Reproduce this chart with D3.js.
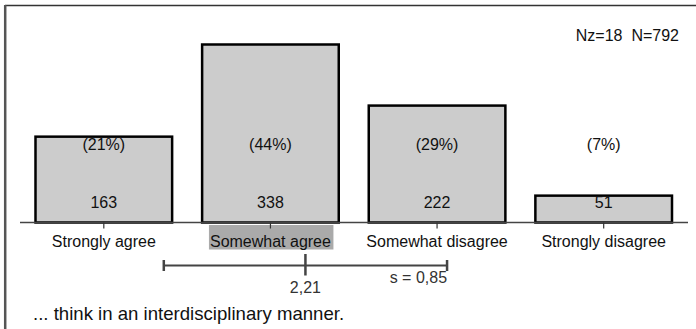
<!DOCTYPE html>
<html><head><meta charset="utf-8">
<script src="https://cdn.jsdelivr.net/npm/d3@7"></script>
<style>body{margin:0;background:#fff}svg{display:block}text{font-family:"Liberation Sans",Arial,sans-serif}</style>
</head><body><svg id="c" width="696" height="329"></svg>
<script>
const categories = ["Strongly agree","Somewhat agree","Somewhat disagree","Strongly disagree"];
const counts = [163,338,222,51];
const percents = ["(21%)","(44%)","(29%)","(7%)"];
const meanValue = 2.21, sdValue = 0.85;
const meanLabel = "2,21", sdLabel = "s = 0,85";
const nLabel = "Nz=18  N=792";
const footer = "... think in an interdisciplinary manner.";
const highlightIndex = 1;

const svg = d3.select("#c");
const baseY = 222.5;
const x = d3.scaleBand().domain(categories).range([20.5, 687]).paddingInner(0.18).paddingOuter(0.09);
const y = d3.scaleLinear().domain([0, 338]).range([baseY, 44.5]);
const m = d3.scaleLinear().domain([1, 4]).range([x(categories[0]) + x.bandwidth()/2, x(categories[3]) + x.bandwidth()/2]);

// frame
svg.append("line").attr("x1",5).attr("x2",696).attr("y1",5.5).attr("y2",5.5).attr("stroke","#333").attr("stroke-width",1.5);
svg.append("line").attr("x1",5.2).attr("x2",5.2).attr("y1",5).attr("y2",329).attr("stroke","#555").attr("stroke-width",2.5);

// bars
svg.selectAll("rect.bar").data(counts).join("rect").attr("class","bar")
  .attr("x",(d,i)=>x(categories[i])).attr("width",x.bandwidth())
  .attr("y",d=>y(d)).attr("height",d=>baseY-y(d))
  .attr("fill","#cccccc").attr("stroke","#000").attr("stroke-width",2.5);

// baseline
svg.append("line").attr("x1",20).attr("x2",688).attr("y1",baseY).attr("y2",baseY).attr("stroke","#444").attr("stroke-width",1.3);

// highlight behind label
const hx = x(categories[highlightIndex]) + x.bandwidth()/2;
svg.append("rect").attr("x",hx-61.5).attr("y",225).attr("width",124.5).attr("height",24.5).attr("fill","#aaaaaa");

// ticks
svg.selectAll("line.tick").data(categories).join("line").attr("class","tick")
  .attr("x1",d=>x(d)+x.bandwidth()/2).attr("x2",d=>x(d)+x.bandwidth()/2)
  .attr("y1",baseY).attr("y2",baseY+6).attr("stroke","#333").attr("stroke-width",1.2);

// percent labels
svg.selectAll("text.pct").data(percents).join("text").attr("class","pct")
  .attr("x",(d,i)=>x(categories[i])+x.bandwidth()/2).attr("y",149.5)
  .attr("text-anchor","middle").attr("font-size",16).attr("fill","#111").text(d=>d);
// count labels
svg.selectAll("text.cnt").data(counts).join("text").attr("class","cnt")
  .attr("x",(d,i)=>x(categories[i])+x.bandwidth()/2).attr("y",208)
  .attr("text-anchor","middle").attr("font-size",16).attr("fill","#111").text(d=>d);
// category labels
svg.selectAll("text.cat").data(categories).join("text").attr("class","cat")
  .attr("x",d=>x(d)+x.bandwidth()/2).attr("y",246.5)
  .attr("text-anchor","middle").attr("font-size",16).attr("fill","#111").text(d=>d);

// mean / sd
const my = 265.5;
svg.append("line").attr("x1",m(meanValue-sdValue)).attr("x2",m(meanValue+sdValue)).attr("y1",my).attr("y2",my).attr("stroke","#444").attr("stroke-width",2);
[meanValue-sdValue, meanValue+sdValue].forEach(v=>{
  svg.append("line").attr("x1",m(v)).attr("x2",m(v)).attr("y1",my-5.5).attr("y2",my+5.5).attr("stroke","#444").attr("stroke-width",2.5);
});
svg.append("line").attr("x1",m(meanValue)).attr("x2",m(meanValue)).attr("y1",my-11.5).attr("y2",my+10).attr("stroke","#444").attr("stroke-width",2.5);
svg.append("text").attr("x",m(meanValue)).attr("y",293).attr("text-anchor","middle").attr("font-size",16).attr("fill","#333").text(meanLabel);
svg.append("text").attr("x",m(meanValue+sdValue)).attr("y",282.5).attr("text-anchor","end").attr("font-size",16).attr("fill","#333").text(sdLabel);

// N label
svg.append("text").attr("x",679).attr("y",40.5).attr("text-anchor","end").attr("font-size",16).attr("fill","#111").style("white-space","pre").text(nLabel);

// footer
svg.append("text").attr("x",33).attr("y",319.5).attr("font-size",18.6).attr("fill","#111").text(footer);
</script></body></html>
